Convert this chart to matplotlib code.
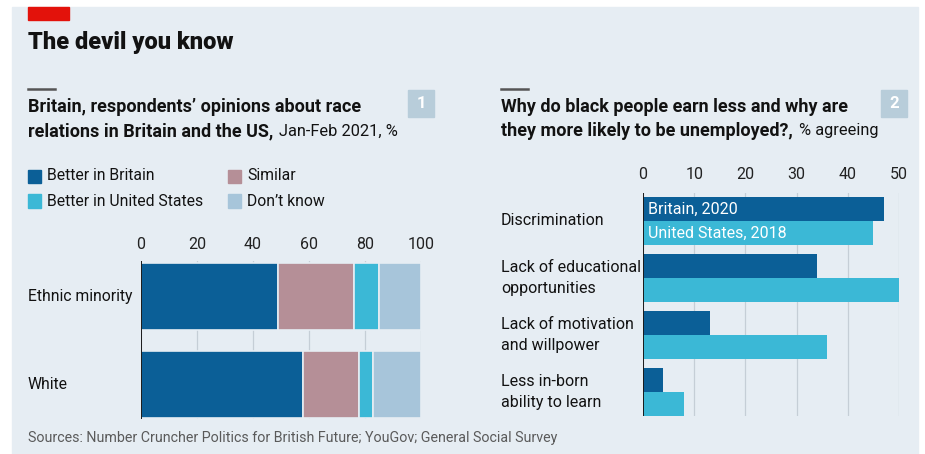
import matplotlib.pyplot as plt
from matplotlib.patches import Rectangle
from matplotlib.transforms import blended_transform_factory
import numpy as np

plt.rcParams['font.family'] = ['Roboto', 'DejaVu Sans']

# panel 1: opinions about race relations, %
groups = ["Ethnic minority", "White"]
answers = ["Better in Britain", "Similar", "Better in United States", "Don\u2019t know"]
better_britain = [49, 58]
similar = [27, 20]
better_us = [9, 5]
dont_know = [15, 17]

# panel 2: % agreeing
reasons = ["Discrimination", "Lack of educational\nopportunities",
           "Lack of motivation\nand willpower", "Less in-born\nability to learn"]
britain_2020 = [47, 34, 13, 4]
us_2018 = [45, 50, 36, 8]

BG = "#e6edf3"
DARK = "#0b5f97"
PINK = "#b58f97"
CYAN = "#3bb8d6"
LIGHT = "#a7c5da"
GRID = "#c5ced6"
TXT = "#121212"

W, H = 925, 454
fig = plt.figure(figsize=(W / 100, H / 100), dpi=100, facecolor="white")
renderer = fig.canvas.get_renderer()


def fx(x):
    return x / W


def fy(y):
    return 1 - y / H


def box(x0, y0, x1, y1):
    # axes rect from pixel edges (top-left origin)
    return [fx(x0), fy(y1), fx(x1) - fx(x0), fy(y0) - fy(y1)]


def headline(x, y, bold, light):
    # bold part followed by a lighter suffix on the same line
    t = fig.text(fx(x), fy(y), bold, fontsize=13, fontweight="bold",
                 color=TXT, va="center")
    if light:
        x1 = t.get_window_extent(renderer).x1
        fig.text(fx(x1 + 6), fy(y), light, fontsize=11.8, color=TXT, va="center")


# background panel and header furniture
fig.patches.append(Rectangle((fx(12), 0), fx(918) - fx(12), fy(7),
                             transform=fig.transFigure, color=BG, zorder=-10))
fig.patches.append(Rectangle((fx(28), fy(20)), fx(41), fy(7) - fy(20),
                             transform=fig.transFigure, color="#e3120b", zorder=1))
fig.text(fx(28), fy(42), "The devil you know", fontsize=17, fontweight="black",
         color=TXT, va="center", ha="left")

for x0, num, bx in [(28, "1", 408), (501, "2", 881)]:
    fig.add_artist(plt.Line2D([fx(x0), fx(x0 + 27)], [fy(89), fy(89)],
                              color="#555555", lw=1.8))
    fig.patches.append(Rectangle((fx(bx), fy(117)), fx(26), fy(90) - fy(117),
                                 transform=fig.transFigure, color="#b8cdda", zorder=1))
    fig.text(fx(bx + 13), fy(104), num, color="white", fontsize=12,
             fontweight="bold", ha="center", va="center")

headline(28, 107, "Britain, respondents\u2019 opinions about race", "")
headline(28, 131, "relations in Britain and the US,", "Jan-Feb 2021, %")
headline(501, 107, "Why do black people earn less and why are", "")
headline(501, 131, "they more likely to be unemployed?,", "% agreeing")

# legend for panel 1
colors1 = [DARK, PINK, CYAN, LIGHT]
for i, (lab, col) in enumerate(zip(answers, colors1)):
    lx = 28 if i % 2 == 0 else 228
    ly = 176 if i < 2 else 201
    fig.patches.append(Rectangle((fx(lx), fy(ly + 6.5)), fx(13), fy(ly - 6.5) - fy(ly + 6.5),
                                 transform=fig.transFigure, color=col, zorder=1))
    fig.text(fx(lx + 19), fy(ly), lab, fontsize=11.3, color=TXT, va="center")


def style(ax, xmax, step, pad):
    ax.set_facecolor("none")
    for s in ax.spines.values():
        s.set_visible(False)
    ax.set_xlim(0, xmax)
    ax.set_xticks(np.arange(0, xmax + 1, step))
    ax.xaxis.tick_top()
    ax.tick_params(axis="x", length=0, pad=pad, labelsize=11.5, labelcolor="#222222")
    ax.tick_params(axis="y", length=0, labelleft=False)
    ax.set_yticks([])
    ax.grid(axis="x", color=GRID, lw=0.9)
    ax.set_axisbelow(True)
    ax.axvline(0, color="#1a1a1a", lw=1.4, zorder=5)


# panel 1: stacked bars
ax1 = fig.add_axes(box(141, 261, 421, 419))
y1 = np.arange(len(groups))
left = np.zeros(len(groups))
for vals, col in zip([better_britain, similar, better_us, dont_know], colors1):
    ax1.barh(y1, vals, left=left, height=0.76, color=col, edgecolor=BG, lw=1.2, zorder=3)
    left += np.array(vals)
ax1.set_ylim(1.392, -0.403)
style(ax1, 100, 20, 6.5)
tr1 = blended_transform_factory(fig.transFigure, ax1.transData)
for i, g in enumerate(groups):
    ax1.text(fx(28), y1[i], g, transform=tr1, fontsize=11.3, color=TXT,
             va="center", ha="left")

# panel 2: paired bars
ax2 = fig.add_axes(box(643, 193, 899, 416))
y2 = np.arange(len(reasons))
bh = 0.42
ax2.barh(y2 - bh / 2, britain_2020, height=bh, color=DARK, zorder=3)
ax2.barh(y2 + bh / 2, us_2018, height=bh, color=CYAN, zorder=3)
ax2.set_ylim(3 + bh, -0.491)
style(ax2, 50, 10, 8)
ax2.text(1, -bh / 2, "Britain, 2020", color="white", fontsize=11.5, va="center", zorder=6)
ax2.text(1, bh / 2, "United States, 2018", color="white", fontsize=11.5, va="center", zorder=6)
tr2 = blended_transform_factory(fig.transFigure, ax2.transData)
for i, r in enumerate(reasons):
    ax2.text(fx(501), y2[i], r, transform=tr2, fontsize=11.5, color=TXT,
             va="center", ha="left", linespacing=1.45)

fig.text(fx(28), fy(438), "Sources: Number Cruncher Politics for British Future; YouGov; "
         "General Social Survey", fontsize=10.25, color="#5a5a5a", va="center")

fig.savefig("out.png", dpi=100, facecolor="white")
